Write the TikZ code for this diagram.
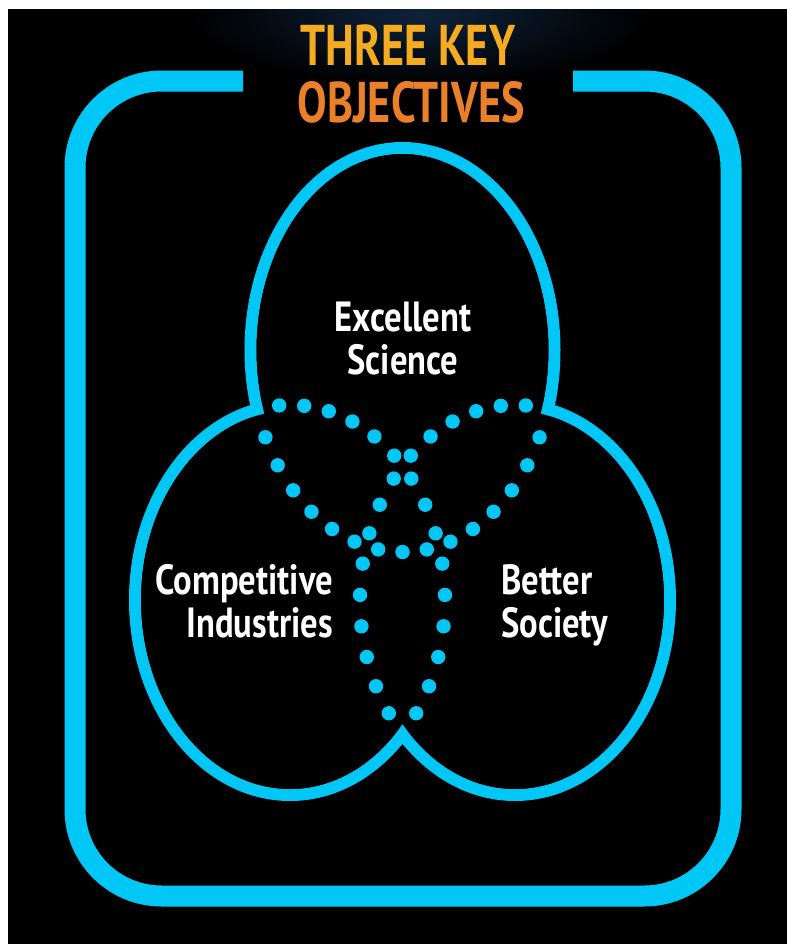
\documentclass[tikz,border=0pt]{standalone}
\usepackage{fontspec}
\usepackage{tikz}
\usetikzlibrary{positioning}
\newfontfamily\dinfont{PT Sans}[FakeStretch=0.82]
\newfontfamily\dintitle{PT Sans}[FakeStretch=0.77]
\definecolor{hzcyan}{RGB}{0,199,245}
\definecolor{ttlyellow}{RGB}{245,172,32}
\definecolor{ttlorange}{RGB}{234,128,42}
\definecolor{glowblue}{RGB}{14,34,58}

\begin{document}
\begin{tikzpicture}[
    x=0.03cm, y=-0.03cm,
    frame/.style={draw=hzcyan, line width=0.63cm, rounded corners=2.6cm},
    lobe/.style={draw=hzcyan, line width=0.36cm},
    dot/.style={fill=hzcyan},
    lbl/.style={text=white, font=\dinfont\bfseries\fontsize{36}{36}\selectfont},
    ttl/.style={font=\dintitle\bfseries\fontsize{49}{50}\selectfont}
]
\useasboundingbox (0,0) rectangle (787,944);
\fill[white] (0,0) rectangle (787,944);
\fill[black] (8,9) rectangle (787,944);
\begin{scope}
  \clip (8,9) rectangle (787,944);
  \shade[inner color=glowblue, outer color=black] (420,15) ellipse [x radius=230, y radius=70];
\end{scope}

% title and frame
\node[ttl, text=ttlyellow, anchor=base] (three) at (408,65) {THREE KEY};
\node[ttl, text=ttlorange, anchor=base] (objectives) at (411,122) {OBJECTIVES};
\coordinate (gapL) at (243,81);
\coordinate (gapR) at (573,81);
\draw[frame] (gapL) -- (75,81) -- (75,896) -- (731,896) -- (731,81) -- (gapR);

% the three lobes
\coordinate (sci) at (402.5,350);
\coordinate (ind) at (290,600);
\coordinate (soc) at (515,600);
\draw[lobe] (sci) ellipse [x radius=152, y radius=202];
\draw[lobe] (ind) ellipse [x radius=155, y radius=195];
\draw[lobe] (soc) ellipse [x radius=155, y radius=195];
\fill[black] (sci) ellipse [x radius=146, y radius=196]
             (ind) ellipse [x radius=149, y radius=189]
             (soc) ellipse [x radius=149, y radius=189];

% dotted overlaps
\foreach \k in {-7,...,7}
  \fill[dot, shift={(sci)}] ({90+9.2*\k}:152 and 202) circle (7.2);
\foreach \k in {0,...,14} {
  \fill[dot, shift={(ind)}] ({-94+9.25*\k}:155 and 195) circle (7.2);
  \fill[dot, shift={(soc)}] ({274-9.25*\k}:155 and 195) circle (7.2);
}

\node[lbl, align=center, anchor=base] (exc) at (403,374) {Excellent\\Science};
\node[lbl, align=right, anchor=base east] (comp) at (337,637) {Competitive\\Industries};
\node[lbl, align=left, anchor=base west] (bet) at (497,637) {Better\\Society};
\end{tikzpicture}
\end{document}
